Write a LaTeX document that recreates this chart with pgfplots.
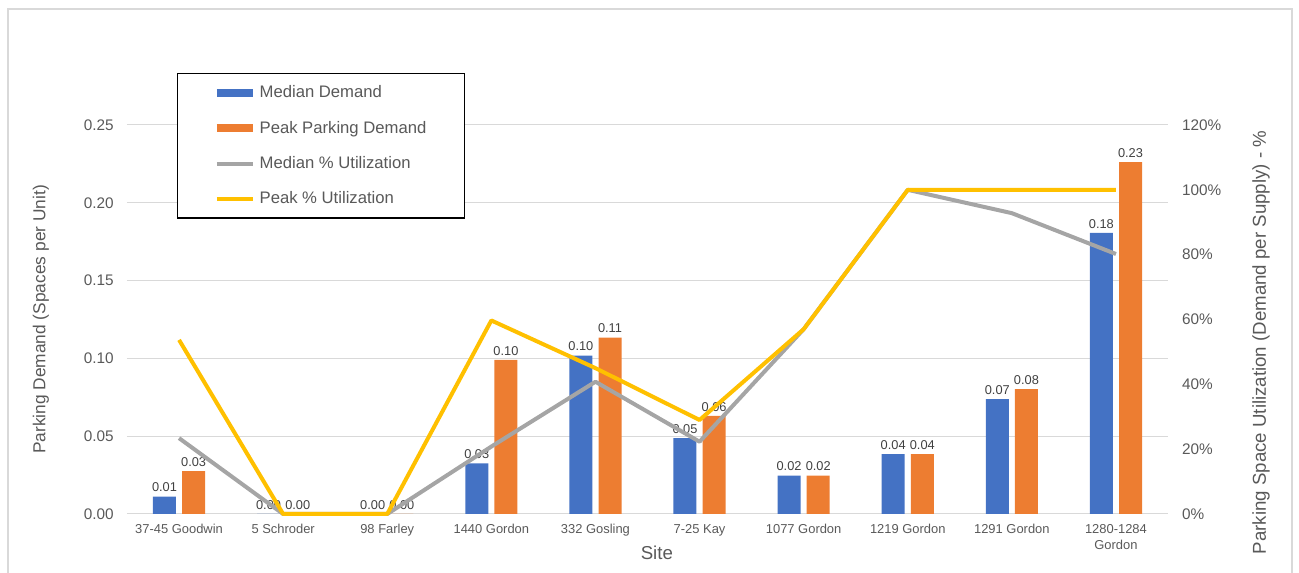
\documentclass[border=0pt]{standalone}
\usepackage{fontspec}
\setmainfont{Liberation Sans}
\usepackage{pgfplots}
\usepackage{pgfplotstable}
\pgfplotsset{compat=1.18}

\definecolor{medblue}{HTML}{4472C4}
\definecolor{peakorange}{HTML}{ED7D31}
\definecolor{medgray}{HTML}{A5A5A5}
\definecolor{peakyellow}{HTML}{FFC000}
\definecolor{gridgray}{HTML}{D9D9D9}
\definecolor{textgray}{HTML}{595959}
\definecolor{labelgray}{HTML}{404040}

% Parking demand (spaces per unit) per site, x = site index
\pgfplotstableread{
x  median  peak
0  0.0111  0.0276
1  0.0000  0.0000
2  0.0000  0.0000
3  0.0326  0.0990
4  0.1017  0.1133
5  0.0488  0.0630
6  0.0246  0.0246
7  0.0384  0.0384
8  0.0739  0.0803
9  0.1806  0.2262
}\demand

% Utilization (% of supply) per site
\pgfplotstableread{
x  median  peak
0  23.4    53.7
1  0.0     0.0
2  0.0     0.0
3  20.8    59.7
4  40.8    45.0
5  22.3    29.0
6  57.0    57.0
7  100.0   100.0
8  92.8    100.0
9  80.2    100.0
}\utilization

\pgfplotsset{
  siteaxis/.style={
    scale only axis, width=780.75pt, height=291.75pt,
    at={(0pt,0pt)}, anchor=south west,
    xmin=-0.5, xmax=9.5, ymin=0,
    axis line style={draw=none},
    major tick length=0pt,
    tick style={draw=none},
    /pgf/number format/assume math mode=true,
    ticklabel style={font=\fontsize{11.5}{13}\selectfont, text=textgray},
  },
}

\begin{document}
\begin{tikzpicture}
\path[use as bounding box] (-95.25pt,-44.25pt) rectangle (879pt,385.5pt);
% chart area frame
\draw[gridgray, line width=1.5pt] (-89.6pt,-60pt) -- (-89.6pt,379.1pt) -- (873.75pt,379.1pt) -- (873.75pt,-60pt);

\begin{axis}[siteaxis,
  ymax=0.25, ytick={0,0.05,0.1,0.15,0.2,0.25},
  ymajorgrids, grid style={gridgray, line width=0.75pt},
  yticklabel={\pgfmathprintnumber[fixed,fixed zerofill,precision=2]{\tick}},
  yticklabel style={xshift=-6.5pt},
  xtick={0,...,9},
  xticklabels={37-45 Goodwin, 5 Schroder, 98 Farley, 1440 Gordon, 332 Gosling, 7-25 Kay, 1077 Gordon, 1219 Gordon, 1291 Gordon, {1280-1284\\Gordon}},
  xticklabel style={font=\fontsize{9.7}{12}\selectfont, align=center, yshift=-4pt, text=textgray},
  ylabel={Parking Demand (Spaces per Unit)},
  ylabel style={at={(axis description cs:-0.0826,0.5)}, anchor=center, font=\fontsize{13}{15}\selectfont, text=textgray},
  xlabel={Site},
  xlabel style={at={(axis description cs:0.509,-0.1003)}, anchor=center, font=\fontsize{14}{16}\selectfont, text=textgray},
  ybar, bar width=0.221,
  point meta=y,
  nodes near coords={\pgfmathprintnumber[fixed,fixed zerofill,precision=2]{\pgfplotspointmeta}},
  every node near coord/.append style={font=\fontsize{9.6}{11}\selectfont, text=labelgray},
]
\addplot[fill=medblue, draw=none, bar shift=-0.14] table[x=x, y=median] {\demand};
\addplot[fill=peakorange, draw=none, bar shift=0.14] table[x=x, y=peak] {\demand};
\end{axis}

\begin{axis}[siteaxis,
  clip=false,
  ymax=120, ytick={0,20,40,60,80,100,120},
  axis y line*=right, axis x line=none,
  yticklabel={\pgfmathprintnumber{\tick}\%},
  yticklabel style={xshift=7pt},
  ylabel={Parking Space Utilization (Demand per Supply) - \%},
  ylabel style={at={(axis description cs:1.0893,0.441)}, anchor=center, font=\fontsize{14}{16}\selectfont, text=textgray},
  legend image code/.code={\draw[#1] (0pt,0pt) -- (27pt,0pt);},
  legend cell align=left,
  legend style={at={(0.048,1.1337)}, anchor=north west, draw=black, line width=1pt,
    inner xsep=26.5pt, inner ysep=7pt, row sep=12pt,
    font=\fontsize{12.5}{15}\selectfont, text=textgray},
]
\addlegendimage{medblue, line width=6pt}
\addlegendentry{Median Demand}
\addlegendimage{peakorange, line width=6pt}
\addlegendentry{Peak Parking Demand}
\addplot[medgray, line width=3pt, line join=round, mark=none] table[x=x, y=median] {\utilization};
\addlegendentry{Median \% Utilization}
\addplot[peakyellow, line width=3pt, line join=round, mark=none] table[x=x, y=peak] {\utilization};
\addlegendentry{Peak \% Utilization}
\end{axis}
\end{tikzpicture}
\end{document}
